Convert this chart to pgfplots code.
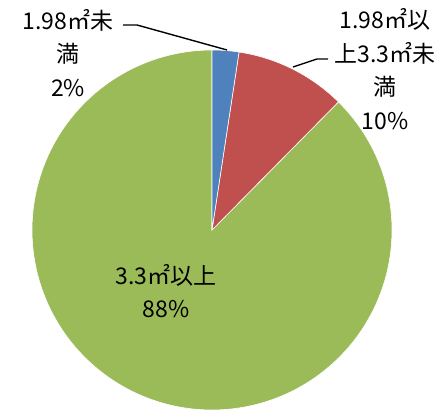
\documentclass[border=0pt]{standalone}
\usepackage{fontspec}
\newfontfamily\jp{Noto Sans CJK JP}
\usepackage{pgfplots}
\usepackage{pgfplotstable}
\pgfplotsset{compat=1.18}
\definecolor{sblue}{HTML}{4F81BD}
\definecolor{sred}{HTML}{C0504D}
\definecolor{sgreen}{HTML}{9BBB59}
\pgfplotstableread{
label value
a 2.4
b 10.0
c 87.6
}\piedata
\pgfplotstablegetelem{0}{value}\of\piedata \let\va\pgfplotsretval
\pgfplotstablegetelem{1}{value}\of\piedata \let\vb\pgfplotsretval
\pgfplotstablegetelem{2}{value}\of\piedata \let\vc\pgfplotsretval
\pgfmathsetmacro\aO{90}
\pgfmathsetmacro\aA{90-3.6*\va}
\pgfmathsetmacro\aB{\aA-3.6*\vb}
\pgfmathsetmacro\aC{\aB-3.6*\vc}
\begin{document}
\begin{tikzpicture}
\begin{axis}[
  width=444bp, height=411bp, scale only axis,
  xmin=-212, xmax=232, ymin=-181, ymax=230,
  hide axis, clip=false,
]
\path (-212,-181) rectangle (232,230);
\addplot[fill=sgreen, draw=white, line width=0.6bp, domain=\aC:\aB, samples=200, variable=\t]
  ({180*cos(t)},{180*sin(t)}) -- (0,0) -- cycle;
\addplot[fill=sred, draw=white, line width=0.6bp, domain=\aB:\aA, samples=40, variable=\t]
  ({180*cos(t)},{180*sin(t)}) -- (0,0) -- cycle;
\addplot[fill=sblue, draw=white, line width=0.6bp, domain=\aA:\aO, samples=20, variable=\t]
  ({180*cos(t)},{180*sin(t)}) -- (0,0) -- cycle;
\draw[black, line width=1.4bp] (-89,205) -- (-75,205) -- (15,180);
\draw[black, line width=1.4bp] (81,163) -- (105,171) -- (116,171);
\node[align=center, font=\jp\fontsize{23bp}{33.5bp}\selectfont, inner sep=0pt] at (-144,177) {1.98㎡未\\満\\2\%};
\node[align=center, font=\jp\fontsize{23bp}{33.5bp}\selectfont, inner sep=0pt] at (173,161) {1.98㎡以\\上3.3㎡未\\満\\10\%};
\node[align=center, font=\jp\fontsize{23bp}{33.5bp}\selectfont, inner sep=0pt] at (-46,-61) {3.3㎡以上\\88\%};
\end{axis}
\end{tikzpicture}
\end{document}
